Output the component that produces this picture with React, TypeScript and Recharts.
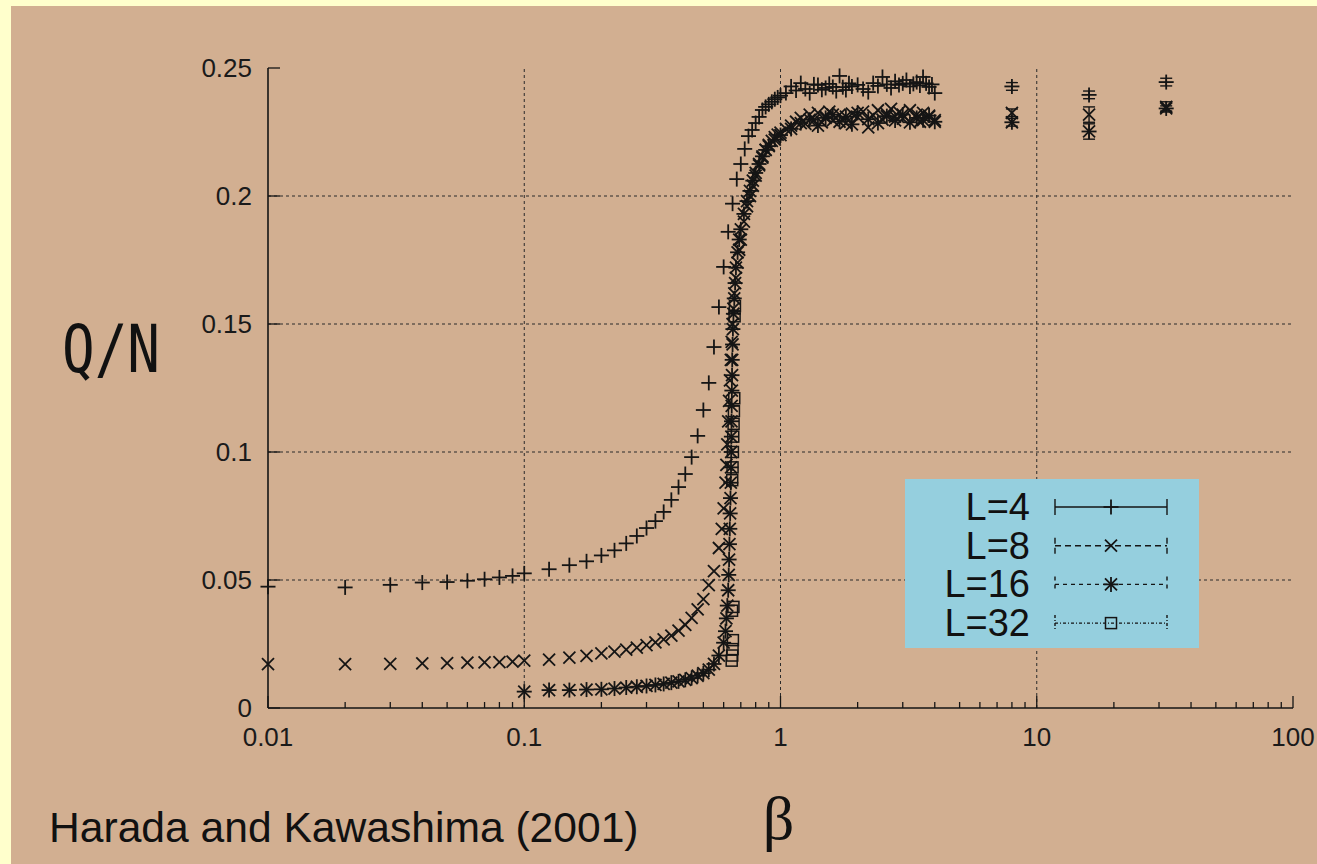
import React from 'react';
import { ScatterChart, Scatter, XAxis, YAxis, ErrorBar, ReferenceLine, Legend } from 'recharts';

// axis ticks
const majorBeta = [0.01, 0.1, 1, 10, 100];
const minorBeta = [
  0.02, 0.03, 0.04, 0.05, 0.06, 0.07, 0.08, 0.09,
  0.2, 0.3, 0.4, 0.5, 0.6, 0.7, 0.8, 0.9,
  2, 3, 4, 5, 6, 7, 8, 9,
  20, 30, 40, 50, 60, 70, 80, 90,
];
const qTicks = [0, 0.05, 0.1, 0.15, 0.2, 0.25];
const gridBeta = [0.1, 1, 10];
const gridQ = [0.05, 0.1, 0.15, 0.2];

const seriesNames = ['L=4', 'L=8', 'L=16', 'L=32'];

// L=4
const l4Beta = [
  0.01, 0.02, 0.03, 0.04, 0.05, 0.06, 0.07, 0.08, 0.09, 0.1,
  0.125, 0.15, 0.175, 0.2, 0.225, 0.25, 0.275, 0.3, 0.325, 0.35,
  0.375, 0.4, 0.425, 0.45, 0.475, 0.5, 0.525, 0.55, 0.575, 0.6,
  0.625, 0.65, 0.675, 0.7, 0.725, 0.75, 0.775, 0.8, 0.825, 0.85,
  0.875, 0.9, 0.925, 0.95, 0.975, 1.0, 1.05, 1.1, 1.15, 1.2,
  1.25, 1.3, 1.35, 1.4, 1.45, 1.5, 1.55, 1.6, 1.65, 1.7,
  1.75, 1.8, 1.85, 1.9, 2.0, 2.1, 2.2, 2.3, 2.4, 2.5,
  2.6, 2.7, 2.8, 2.9, 3.0, 3.1, 3.2, 3.3, 3.4, 3.5,
  3.6, 3.7, 3.8, 3.9, 4.0,
];
const l4Q = [
  0.0474, 0.0471, 0.0481, 0.049, 0.0492, 0.0497, 0.0503, 0.051, 0.0516, 0.0526,
  0.0542, 0.0558, 0.0573, 0.0596, 0.0616, 0.0643, 0.0672, 0.0703, 0.073, 0.0766,
  0.0813, 0.0863, 0.0914, 0.098, 0.1063, 0.1164, 0.127, 0.141, 0.1566, 0.1723,
  0.186, 0.197, 0.2066, 0.2125, 0.2184, 0.2234, 0.2258, 0.2285, 0.2309, 0.2336,
  0.2348, 0.2358, 0.2368, 0.2378, 0.2385, 0.2392, 0.2402, 0.2428, 0.2412, 0.2441,
  0.2418, 0.2402, 0.2436, 0.2434, 0.2415, 0.2422, 0.2438, 0.2426, 0.241, 0.2469,
  0.2425, 0.2414, 0.244, 0.2428, 0.2434, 0.2418, 0.2406, 0.2441, 0.243, 0.2465,
  0.2436, 0.2422, 0.2448, 0.2434, 0.244, 0.2453, 0.2428, 0.2438, 0.2445, 0.2432,
  0.2465, 0.244, 0.2426, 0.2436, 0.2402,
];

// L=8
const l8Beta = [
  0.01, 0.02, 0.03, 0.04, 0.05, 0.06, 0.07, 0.08, 0.09, 0.1,
  0.125, 0.15, 0.175, 0.2, 0.225, 0.25, 0.275, 0.3, 0.325, 0.35,
  0.375, 0.4, 0.425, 0.45, 0.475, 0.5, 0.525, 0.55, 0.575, 0.59,
  0.6, 0.61, 0.615, 0.62, 0.625, 0.63, 0.635, 0.64, 0.645, 0.65,
  0.655, 0.66, 0.67, 0.68, 0.69, 0.7, 0.72, 0.74, 0.76, 0.78,
  0.8, 0.825, 0.85, 0.875, 0.9, 0.925, 0.95, 0.975, 1.0, 1.05,
  1.1, 1.15, 1.2, 1.25, 1.3, 1.35, 1.4, 1.45, 1.5, 1.55,
  1.6, 1.7, 1.8, 1.9, 2.0, 2.1, 2.2, 2.3, 2.4, 2.5,
  2.6, 2.7, 2.8, 2.9, 3.0, 3.2, 3.4, 3.5, 3.6, 3.8,
  4.0,
];
const l8Q = [
  0.0171, 0.0171, 0.0172, 0.0174, 0.0175, 0.0177, 0.0178, 0.0179, 0.0181, 0.0185,
  0.0189, 0.0197, 0.0204, 0.0213, 0.022, 0.0228, 0.0236, 0.0246, 0.0256, 0.0268,
  0.0283, 0.0302, 0.0325, 0.0352, 0.0385, 0.0425, 0.048, 0.0535, 0.0625, 0.07,
  0.078, 0.088, 0.095, 0.103, 0.112, 0.12, 0.128, 0.136, 0.143, 0.15,
  0.156, 0.162, 0.168, 0.174, 0.179, 0.183, 0.19, 0.196, 0.2, 0.204,
  0.208, 0.212, 0.215, 0.218, 0.22, 0.2215, 0.223, 0.224, 0.2248, 0.2262,
  0.2275, 0.229, 0.2305, 0.2282, 0.2318, 0.2296, 0.2325, 0.2288, 0.231, 0.233,
  0.2295, 0.2318, 0.2285, 0.2322, 0.2308, 0.233, 0.2268, 0.2315, 0.2335, 0.2298,
  0.232, 0.234, 0.231, 0.2328, 0.2302, 0.2335, 0.2318, 0.229, 0.2325, 0.231,
  0.2296,
];

// L=16
const l16Beta = [
  0.1, 0.125, 0.15, 0.175, 0.2, 0.225, 0.25, 0.275, 0.3, 0.325,
  0.35, 0.375, 0.4, 0.425, 0.45, 0.475, 0.5, 0.525, 0.55, 0.575,
  0.6, 0.61, 0.615, 0.62, 0.625, 0.628, 0.63, 0.632, 0.634, 0.636,
  0.638, 0.64, 0.641, 0.642, 0.643, 0.644, 0.645, 0.646, 0.647, 0.648,
  0.65, 0.652, 0.655, 0.66, 0.665, 0.67, 0.68, 0.69, 0.7, 0.72,
  0.74, 0.76, 0.78, 0.8, 0.825, 0.85, 0.875, 0.9, 0.95, 1.0,
  1.1, 1.2, 1.3, 1.4, 1.5, 1.6, 1.7, 1.8, 1.9, 2.0,
  2.2, 2.4, 2.6, 2.8, 3.0, 3.2, 3.4, 3.6, 3.8, 4.0,
];
const l16Q = [
  0.0064, 0.007, 0.007, 0.0072, 0.0073, 0.0076, 0.008, 0.0083, 0.0086, 0.009,
  0.0094, 0.0099, 0.0104, 0.011, 0.0117, 0.0126, 0.0136, 0.015, 0.0172, 0.0205,
  0.0255, 0.03, 0.035, 0.04, 0.046, 0.052, 0.058, 0.064, 0.07, 0.076,
  0.082, 0.088, 0.094, 0.1, 0.106, 0.112, 0.118, 0.124, 0.13, 0.136,
  0.142, 0.148, 0.154, 0.16, 0.166, 0.172, 0.178, 0.183, 0.187, 0.193,
  0.198, 0.202, 0.206, 0.209, 0.2125, 0.2155, 0.218, 0.2195, 0.222, 0.2238,
  0.2262, 0.2285, 0.2298, 0.2275, 0.2305, 0.2318, 0.229, 0.231, 0.228, 0.2325,
  0.23, 0.2285, 0.2312, 0.2295, 0.2318, 0.2288, 0.2305, 0.2296, 0.2314, 0.229,
];

// L=32
const l32Beta = [0.645, 0.648, 0.65, 0.652, 0.647, 0.655, 0.648, 0.65, 0.652, 0.654, 0.656, 0.658, 0.66, 0.662, 0.664];
const l32Q = [0.0185, 0.0205, 0.023, 0.0265, 0.038, 0.0395, 0.089, 0.094, 0.1, 0.106, 0.111, 0.116, 0.121, 0.153, 0.157];

// long runs at large beta, with error bars
const farBeta = [8, 16, 32];
const l4FarQ = [0.2428, 0.2395, 0.2445];
const l4FarErr = [0.0015, 0.0015, 0.0015];
const l8FarQ = [0.2325, 0.2318, 0.2348];
const l8FarErr = [0.0015, 0.003, 0.002];
const l16FarQ = [0.2288, 0.2252, 0.2342];
const l16FarErr = [0.0015, 0.003, 0.001];

const build = (betas: number[], qs: number[], fb: number[] = [], fq: number[] = [], fe: number[] = []) => [
  ...betas.map((b, i) => ({ beta: b, q: qs[i] })),
  ...fb.map((b, i) => ({ beta: b, q: fq[i], err: fe[i] })),
];

const l4Data = build(l4Beta, l4Q, farBeta, l4FarQ, l4FarErr);
const l8Data = build(l8Beta, l8Q, farBeta, l8FarQ, l8FarErr);
const l16Data = build(l16Beta, l16Q, farBeta, l16FarQ, l16FarErr);
const l32Data = build(l32Beta, l32Q);

const INK = '#151515';
const FONT = '"Liberation Sans", Arial, Helvetica, sans-serif';

type MarkerKind = 'plus' | 'cross' | 'star' | 'square';
const markerKinds: MarkerKind[] = ['plus', 'cross', 'star', 'square'];
const legendDash = ['', '6 4', '4 4', '3 2 1 2'];

function Marker({ kind, cx, cy }: { kind: MarkerKind; cx: number; cy: number }) {
  const s = 7.5;
  const c = 6;
  const st = { stroke: INK, strokeWidth: 1.8, fill: 'none' };
  if (kind === 'plus') {
    return (
      <g {...st}>
        <line x1={cx - s} y1={cy} x2={cx + s} y2={cy} />
        <line x1={cx} y1={cy - s} x2={cx} y2={cy + s} />
      </g>
    );
  }
  if (kind === 'cross') {
    return (
      <g {...st}>
        <line x1={cx - c} y1={cy - c} x2={cx + c} y2={cy + c} />
        <line x1={cx - c} y1={cy + c} x2={cx + c} y2={cy - c} />
      </g>
    );
  }
  if (kind === 'star') {
    return (
      <g {...st}>
        <line x1={cx - s} y1={cy} x2={cx + s} y2={cy} />
        <line x1={cx} y1={cy - s} x2={cx} y2={cy + s} />
        <line x1={cx - c} y1={cy - c} x2={cx + c} y2={cy + c} />
        <line x1={cx - c} y1={cy + c} x2={cx + c} y2={cy - c} />
      </g>
    );
  }
  return <rect x={cx - 5.5} y={cy - 5.5} width={11} height={11} {...st} strokeWidth={1.5} />;
}

const BottomTick = (props: any) => {
  const { x, y, payload } = props;
  const major = majorBeta.includes(payload.value);
  return (
    <g>
      <line x1={x} y1={y} x2={x} y2={y - (major ? 12 : 6)} stroke={INK} strokeWidth={1.3} />
      {major && (
        <text x={x} y={y + 38} textAnchor="middle" fontFamily={FONT} fontSize={26} fill="#1a1a1a">
          {payload.value}
        </text>
      )}
    </g>
  );
};

const TopTick = (props: any) => {
  const { x, y, payload } = props;
  const major = majorBeta.includes(payload.value);
  return <line x1={x} y1={y} x2={x} y2={y + (major ? 12 : 6)} stroke={INK} strokeWidth={1.3} />;
};

const LeftTick = (props: any) => {
  const { x, y, payload } = props;
  return (
    <g>
      <line x1={x} y1={y} x2={x + 12} y2={y} stroke={INK} strokeWidth={1.3} />
      <text x={x - 16} y={y + 9} textAnchor="end" fontFamily={FONT} fontSize={26} fill="#1a1a1a">
        {payload.value}
      </text>
    </g>
  );
};

const RightTick = (props: any) => {
  const { x, y } = props;
  return <line x1={x} y1={y} x2={x - 12} y2={y} stroke={INK} strokeWidth={1.3} />;
};

function LegendBox() {
  return (
    <svg width={294} height={169} style={{ display: 'block' }}>
      <rect x={0} y={0} width={294} height={169} fill="#95CFDE" />
      {seriesNames.map((name, i) => {
        const cy = 28 + i * 38.7;
        return (
          <g key={name}>
            <text x={125} y={cy + 13} textAnchor="end" fontFamily={FONT} fontSize={38} fill="#111">
              {name}
            </text>
            <line x1={150} y1={cy} x2={262} y2={cy} stroke={INK} strokeWidth={1.4} strokeDasharray={legendDash[i]} />
            <line x1={150} y1={cy - 8} x2={150} y2={cy + 8} stroke={INK} strokeWidth={1.4} strokeDasharray={legendDash[i]} />
            <line x1={262} y1={cy - 8} x2={262} y2={cy + 8} stroke={INK} strokeWidth={1.4} strokeDasharray={legendDash[i]} />
            <Marker kind={markerKinds[i]} cx={206} cy={cy} />
          </g>
        );
      })}
    </svg>
  );
}

const seriesData = [l4Data, l8Data, l16Data, l32Data];

export default function App() {
  return (
    <div style={{ position: 'absolute', left: 0, top: 0, width: 1317, height: 864, background: '#FFFFCC', overflow: 'hidden' }}>
      <div style={{ position: 'absolute', left: 11, top: 6, width: 1306, height: 858, background: '#D2AF91' }} />
      <div style={{ position: 'absolute', left: 0, top: 0 }}>
        <ScatterChart width={1317} height={864} margin={{ top: 68, right: 24, bottom: 116, left: 188 }}>
          <XAxis
            dataKey="beta"
            type="number"
            scale="log"
            domain={[0.01, 100]}
            ticks={[...majorBeta, ...minorBeta]}
            interval={0}
            height={40}
            tickSize={0}
            tickMargin={0}
            tickLine={false}
            tick={BottomTick}
            axisLine={{ stroke: INK, strokeWidth: 1.6 }}
            label={{
              content: (p: any) => {
                const vb = p.viewBox || { x: 268, y: 708, width: 1025 };
                return (
                  <text x={vb.x + vb.width / 2 - 2} y={vb.y + 131} textAnchor="middle" fontFamily='"Liberation Serif", "DejaVu Serif", serif' fontSize={62} fill="#111">
                    β
                  </text>
                );
              },
            }}
          />
          <XAxis
            xAxisId="top"
            orientation="top"
            type="number"
            scale="log"
            domain={[0.01, 100]}
            ticks={[...majorBeta, ...minorBeta]}
            interval={0}
            height={0}
            tickSize={0}
            tickMargin={0}
            tickLine={false}
            tick={TopTick}
            axisLine={{ stroke: INK, strokeWidth: 1.6 }}
          />
          <YAxis
            dataKey="q"
            type="number"
            domain={[0, 0.25]}
            ticks={qTicks}
            interval={0}
            width={80}
            tickSize={0}
            tickMargin={0}
            tickLine={false}
            tick={LeftTick}
            axisLine={{ stroke: INK, strokeWidth: 1.6 }}
            label={{
              content: (p: any) => {
                const vb = p.viewBox || { x: 188, y: 68 };
                return (
                  <text x={vb.x - 126} y={vb.y + 304} fontFamily='"DejaVu Sans Mono", "Liberation Mono", monospace' fontSize={66} textLength={98} lengthAdjust="spacingAndGlyphs" fill="#111">
                    Q/N
                  </text>
                );
              },
            }}
          />
          <YAxis
            yAxisId="right"
            orientation="right"
            type="number"
            domain={[0, 0.25]}
            ticks={qTicks}
            interval={0}
            width={0}
            tickSize={0}
            tickMargin={0}
            tickLine={false}
            tick={RightTick}
            axisLine={{ stroke: INK, strokeWidth: 1.6 }}
          />
          {gridBeta.map((b) => (
            <ReferenceLine key={`gx${b}`} x={b} stroke="#2a2a2a" strokeWidth={1} strokeDasharray="3 3" />
          ))}
          {gridQ.map((q) => (
            <ReferenceLine key={`gy${q}`} y={q} stroke="#2a2a2a" strokeWidth={1} strokeDasharray="3 3" />
          ))}
          {seriesData.map((data, i) => (
            <Scatter
              key={seriesNames[i]}
              name={seriesNames[i]}
              data={data}
              fill={INK}
              isAnimationActive={false}
              shape={(p: any) => <Marker kind={markerKinds[i]} cx={p.cx} cy={p.cy} />}
            >
              {i < 3 && (
                <ErrorBar dataKey="err" direction="y" width={6} stroke={INK} strokeWidth={1.4} isAnimationActive={false} />
              )}
            </Scatter>
          ))}
          <Legend
            layout="horizontal"
            verticalAlign="middle"
            align="center"
            width={294}
            height={169}
            wrapperStyle={{ left: 905, top: 479, width: 294, height: 169 }}
            content={() => <LegendBox />}
          />
        </ScatterChart>
      </div>
      <svg width={1317} height={864} style={{ position: 'absolute', left: 0, top: 0, pointerEvents: 'none' }}>
        <text x={49} y={842} fontFamily={FONT} fontSize={42.6} fill="#111">
          Harada and Kawashima (2001)
        </text>
      </svg>
    </div>
  );
}
